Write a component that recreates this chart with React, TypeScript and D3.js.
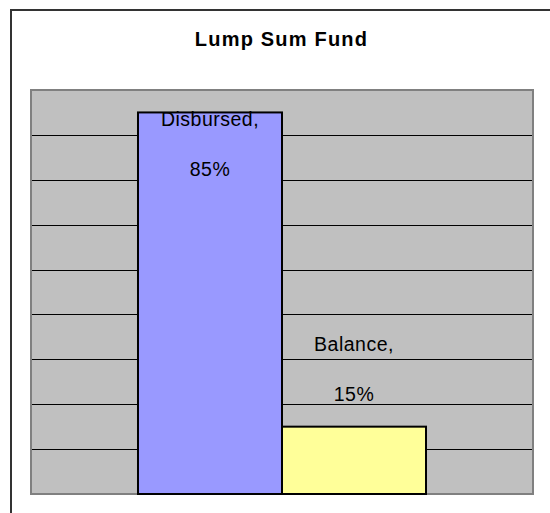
import { useEffect, useRef } from 'react'
import * as d3 from 'd3'

const W = 550
const H = 513
const PLOT = { left: 31, top: 90, right: 533, bottom: 494 }

const categories = ['Disbursed', 'Balance']
const values = [0.85, 0.15]
const colors = ['#9999ff', '#ffff99']
const yTicks = [0.1, 0.2, 0.3, 0.4, 0.5, 0.6, 0.7, 0.8]
const yMax = 0.9

export default function App() {
  const svgRef = useRef<SVGSVGElement | null>(null)

  useEffect(() => {
    const svg = d3.select(svgRef.current)
    svg.selectAll('*').remove()

    const x = d3.scaleBand<string>()
      .domain(categories)
      .range([PLOT.left, PLOT.right])
      .paddingInner(0)
      .paddingOuter(0.743)

    const y = d3.scaleLinear()
      .domain([0, yMax])
      .range([PLOT.bottom, PLOT.top])

    // outer chart frame (runs off the picture right and bottom)
    svg.append('rect')
      .attr('x', 11).attr('y', 10)
      .attr('width', 700).attr('height', 700)
      .attr('fill', '#fff')
      .attr('stroke', '#333')
      .attr('stroke-width', 2)

    // title
    svg.append('text')
      .attr('x', 281.5).attr('y', 46)
      .attr('text-anchor', 'middle')
      .attr('font-family', 'Arial, "Liberation Sans", sans-serif')
      .attr('font-weight', 'bold')
      .attr('font-size', 20)
      .attr('letter-spacing', 1.2)
      .attr('fill', '#000')
      .text('Lump Sum Fund')

    // plot area
    svg.append('rect')
      .attr('x', PLOT.left).attr('y', PLOT.top)
      .attr('width', PLOT.right - PLOT.left)
      .attr('height', PLOT.bottom - PLOT.top)
      .attr('fill', '#c0c0c0')
      .attr('stroke', '#808080')
      .attr('stroke-width', 2)

    // gridlines
    svg.append('g')
      .selectAll('line')
      .data(yTicks)
      .join('line')
      .attr('x1', PLOT.left + 1).attr('x2', PLOT.right - 1)
      .attr('y1', d => Math.round(y(d)) + 0.5)
      .attr('y2', d => Math.round(y(d)) + 0.5)
      .attr('stroke', '#000')
      .attr('stroke-width', 1)

    // bars
    svg.append('g')
      .selectAll('rect')
      .data(categories)
      .join('rect')
      .attr('x', d => x(d)!)
      .attr('y', (d, i) => y(values[i]))
      .attr('width', x.bandwidth())
      .attr('height', (d, i) => PLOT.bottom - y(values[i]))
      .attr('fill', (d, i) => colors[i])
      .attr('stroke', '#000')
      .attr('stroke-width', 2)

    // data labels: "Category," over "NN%", kept inside the plot area
    const labels = svg.append('g')
      .attr('font-family', 'Arial, "Liberation Sans", sans-serif')
      .attr('font-size', 19.5)
      .attr('letter-spacing', 0.5)
      .attr('fill', '#000')
      .attr('text-anchor', 'middle')

    categories.forEach((c, i) => {
      const cx = x(c)! + x.bandwidth() / 2
      const base = Math.max(y(values[i]) - 26, PLOT.top + 86)
      labels.append('text')
        .attr('x', cx).attr('y', base - 50)
        .text(`${c},`)
      labels.append('text')
        .attr('x', cx).attr('y', base)
        .text(d3.format('.0%')(values[i]))
    })
  }, [])

  return (
    <svg
      ref={svgRef}
      width={W}
      height={H}
      style={{ position: 'absolute', left: 0, top: 0, display: 'block', background: '#fff' }}
    />
  )
}
